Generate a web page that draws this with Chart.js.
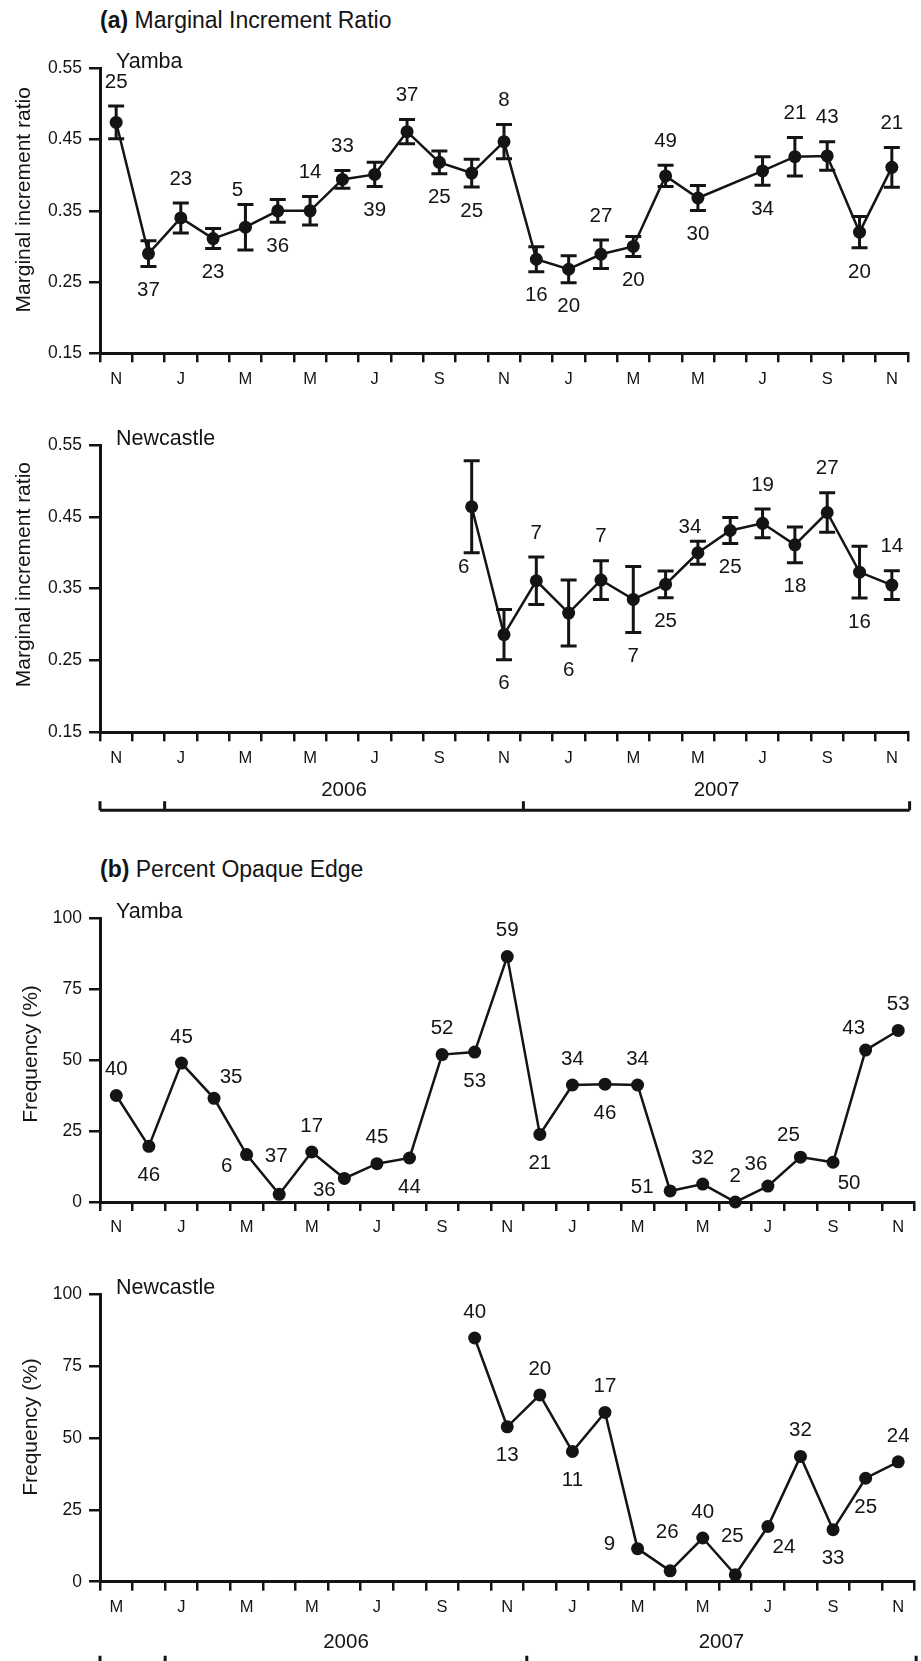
<!DOCTYPE html>
<html>
<head>
<meta charset="utf-8">
<script src="https://cdn.jsdelivr.net/npm/chart.js@4.4.1/dist/chart.umd.min.js"></script>
<style>
body { margin: 0; background: #fff; }
#page { position: relative; width: 921px; height: 1661px; font-family: 'Liberation Sans', Arial, Helvetica, sans-serif; color: #141414; overflow: hidden; }
#page canvas { position: absolute; left: 0; }
.ttl { position: absolute; left: 100px; font-size: 23px; line-height: 23px; white-space: nowrap; }
</style>
</head>
<body>
<div id="page">
  <div class="ttl" style="top:8.5px"><b>(a)</b> Marginal Increment Ratio</div>
  <canvas id="mirYamba" width="921" height="350" style="top:40px"></canvas>
  <canvas id="mirNewcastle" width="921" height="425" style="top:395px"></canvas>
  <div class="ttl" style="top:857.5px"><b>(b)</b> Percent Opaque Edge</div>
  <canvas id="opYamba" width="921" height="360" style="top:885px"></canvas>
  <canvas id="opNewcastle" width="921" height="411" style="top:1250px"></canvas>
</div>
<script>
// months Nov 2005 .. Nov 2007
const months = ['Nov 05','Dec 05','Jan 06','Feb 06','Mar 06','Apr 06','May 06','Jun 06','Jul 06','Aug 06','Sep 06','Oct 06',
                'Nov 06','Dec 06','Jan 07','Feb 07','Mar 07','Apr 07','May 07','Jun 07','Jul 07','Aug 07','Sep 07','Oct 07','Nov 07'];
const tickLabels = ['N','J','M','M','J','S','N','J','M','M','J','S','N'];
const tickLabelsNcOpaque = ['M','J','M','M','J','S','N','J','M','M','J','S','N'];
const years = ['2006', '2007'];

// (a) marginal increment ratio, mean and SE, with sample sizes
const mirYamba = [0.474, 0.290, 0.340, 0.311, 0.327, 0.350, 0.350, 0.394, 0.401, 0.461, 0.418, 0.403, 0.447,
                  0.282, 0.268, 0.289, 0.300, 0.399, 0.368, null, 0.406, 0.426, 0.427, 0.320, 0.411];
const mirYambaSE = [0.023, 0.018, 0.021, 0.014, 0.032, 0.016, 0.020, 0.0125, 0.017, 0.017, 0.016, 0.0195, 0.024,
                    0.0175, 0.019, 0.020, 0.014, 0.015, 0.0175, null, 0.020, 0.027, 0.020, 0.022, 0.028];
const mirYambaN = [25, 37, 23, 23, 5, 36, 14, 33, 39, 37, 25, 25, 8, 16, 20, 27, 20, 49, 30, null, 34, 21, 43, 20, 21];

const mirNewcastle = [null, null, null, null, null, null, null, null, null, null, null,
                      0.464, 0.286, 0.361, 0.316, 0.362, 0.335, 0.356, 0.400, 0.431, 0.441, 0.411, 0.456, 0.373, 0.355];
const mirNewcastleSE = [null, null, null, null, null, null, null, null, null, null, null,
                        0.064, 0.035, 0.033, 0.046, 0.027, 0.046, 0.0185, 0.016, 0.018, 0.020, 0.025, 0.0275, 0.036, 0.020];
const mirNewcastleN = [null, null, null, null, null, null, null, null, null, null, null,
                       6, 6, 7, 6, 7, 7, 25, 34, 25, 19, 18, 27, 16, 14];

// (b) percent opaque edge, with sample sizes
const opYamba = [37.5, 19.6, 48.9, 36.5, 16.7, 2.7, 17.6, 8.3, 13.5, 15.5, 51.9, 52.8, 86.4,
                 23.8, 41.2, 41.5, 41.2, 3.9, 6.3, 0, 5.6, 15.8, 14, 53.5, 60.4];
const opYambaN = [40, 46, 45, 35, 6, 37, 17, 36, 45, 44, 52, 53, 59, 21, 34, 46, 34, 51, 32, 2, 36, 25, 50, 43, 53];

const opNewcastle = [null, null, null, null, null, null, null, null, null, null, null,
                     84.8, 53.9, 65, 45.3, 58.9, 11.5, 3.8, 15.2, 2.4, 19.2, 43.6, 18.1, 36, 41.7];
const opNewcastleN = [null, null, null, null, null, null, null, null, null, null, null,
                      40, 13, 20, 11, 17, 9, 26, 40, 25, 24, 32, 33, 25, 24];

// where each count label sits relative to its point
const placeMirYamba = ['a','b','a','b','al','b','a','a','b','a','b','b','a','b','b','a','b','a','b',null,'b','a','a','b','a'];
const placeMirNewcastle = [null,null,null,null,null,null,null,null,null,null,null,
                           'bl','b','a','b','a','b','b','al','b','a','b','a','b','a'];
const placeOpYamba = ['a','b','a','ar','bl','aa','a','bl','a','b','a','b','a','b','a','b','a','l','a','a','al','al','br','al','a'];
const placeOpNewcastle = [null,null,null,null,null,null,null,null,null,null,null,
                          'a','b','a','b','a','l','aa','a','aa','br','a','b','b','a'];

const yearBreaks = [-0.5, 1.5, 12.6, 24.55];

const ink = '#141414';
const family = "'Liberation Sans', Arial, Helvetica, sans-serif";
Chart.defaults.font.family = family;
Chart.defaults.color = ink;

const plainOffsets = { a: [0, -26], b: [0, 29], aa: [-3, -38], ar: [17, -21], al: [-12, -22], bl: [-20, 12], br: [16, 21], l: [-28, -4] };

function labelOffset(code, errPx) {
    if (errPx == null) return plainOffsets[code];
    if (code === 'a') return [0, -(errPx + 24)];
    if (code === 'b') return [0, errPx + 24];
    if (code === 'al') return [-8, -(errPx + 14)];
    if (code === 'bl') return [-8, errPx + 15];
    return [0, 0];
}

function deco(cfg) {
    return {
        id: 'deco',
        beforeDatasetsDraw(chart) {
            if (!cfg.errors) return;
            const {ctx} = chart;
            const xs = chart.scales.x, ys = chart.scales.y;
            ctx.save();
            ctx.strokeStyle = ink;
            ctx.lineWidth = 3;
            cfg.values.forEach((v, i) => {
                if (v == null) return;
                const e = cfg.errors[i];
                const px = xs.getPixelForValue(i);
                const top = ys.getPixelForValue(v + e), bot = ys.getPixelForValue(v - e);
                ctx.beginPath();
                ctx.moveTo(px, top); ctx.lineTo(px, bot);
                ctx.moveTo(px - 8, top); ctx.lineTo(px + 8, top);
                ctx.moveTo(px - 8, bot); ctx.lineTo(px + 8, bot);
                ctx.stroke();
            });
            ctx.restore();
        },
        afterDraw(chart) {
            const {ctx, chartArea} = chart;
            const xs = chart.scales.x, ys = chart.scales.y;
            ctx.save();
            ctx.fillStyle = ink;

            // sample sizes
            ctx.font = '20.5px ' + family;
            ctx.textAlign = 'center';
            ctx.textBaseline = 'middle';
            cfg.values.forEach((v, i) => {
                if (v == null || cfg.counts[i] == null) return;
                const px = xs.getPixelForValue(i), py = ys.getPixelForValue(v);
                const errPx = cfg.errors ? ys.getPixelForValue(v - cfg.errors[i]) - py : null;
                const [dx, dy] = labelOffset(cfg.places[i], errPx);
                ctx.fillText(String(cfg.counts[i]), px + dx, py + dy);
            });

            // site name
            ctx.textAlign = 'left';
            ctx.textBaseline = 'alphabetic';
            ctx.font = '21.5px ' + family;
            ctx.fillText(cfg.site, 116, chartArea.top);

            // y axis title
            ctx.font = '21px ' + family;
            ctx.save();
            ctx.translate(cfg.titleX, (chartArea.top + chartArea.bottom) / 2 + cfg.titleShift);
            ctx.rotate(-Math.PI / 2);
            ctx.textAlign = 'center';
            ctx.fillText(cfg.yTitle, 0, 0);
            ctx.restore();

            // year bracket
            if (cfg.bracket) {
                const lineY = chartArea.bottom + cfg.bracket.line;
                const xsPix = yearBreaks.map(b => xs.getPixelForValue(b));
                ctx.font = '20.5px ' + family;
                ctx.textAlign = 'center';
                ctx.textBaseline = 'middle';
                years.forEach((yr, k) => {
                    ctx.fillText(yr, (xsPix[k + 1] + xsPix[k + 2]) / 2, chartArea.bottom + cfg.bracket.year);
                });
                ctx.strokeStyle = ink;
                ctx.lineWidth = 3;
                ctx.beginPath();
                ctx.moveTo(xsPix[0], lineY);
                ctx.lineTo(xsPix[xsPix.length - 1], lineY);
                xsPix.forEach(p => { ctx.moveTo(p, lineY); ctx.lineTo(p, lineY - 9); });
                ctx.stroke();
            }
            ctx.restore();
        }
    };
}

function makeChart(id, cfg) {
    return new Chart(document.getElementById(id), {
        type: 'line',
        data: {
            labels: months,
            datasets: [{
                data: cfg.values,
                borderColor: ink,
                borderWidth: 2.5,
                pointRadius: 6.5,
                pointHoverRadius: 6.5,
                pointBackgroundColor: ink,
                pointBorderWidth: 0,
                spanGaps: true,
                tension: 0,
                clip: false
            }]
        },
        options: {
            responsive: false,
            animation: false,
            devicePixelRatio: 1,
            layout: { padding: { top: cfg.padTop, right: cfg.padRight, left: 0, bottom: 0 } },
            plugins: { legend: { display: false }, tooltip: { enabled: false } },
            scales: {
                x: {
                    type: 'category',
                    offset: true,
                    grid: { offset: true, drawOnChartArea: false, drawTicks: true, tickLength: 9, color: ink, lineWidth: 2.5 },
                    border: { display: true, color: ink, width: 3 },
                    ticks: {
                        autoSkip: false, maxRotation: 0, minRotation: 0, padding: 7,
                        font: { size: 16.5 }, color: ink,
                        callback: (v, i) => (i % 2 ? '' : cfg.ticks[i / 2])
                    },
                    afterFit: s => { s.height = cfg.xHeight; }
                },
                y: {
                    min: cfg.min,
                    max: cfg.max,
                    ticks: { stepSize: cfg.step, padding: 7, font: { size: 17.5 }, color: ink, callback: v => cfg.fmt(v) },
                    grid: { drawOnChartArea: false, drawTicks: true, tickLength: 11, color: ink, lineWidth: 2.5 },
                    border: { display: true, color: ink, width: 3 },
                    afterFit: s => { s.width = 100; }
                }
            }
        },
        plugins: [deco(cfg)]
    });
}

const mirFmt = v => v.toFixed(2);
const pctFmt = v => String(Math.round(v));

makeChart('mirYamba', {
    values: mirYamba, errors: mirYambaSE, counts: mirYambaN, places: placeMirYamba,
    site: 'Yamba', yTitle: 'Marginal increment ratio', titleX: 30, titleShift: -11,
    ticks: tickLabels, min: 0.15, max: 0.55, step: 0.1, fmt: mirFmt,
    padTop: 28.3, padRight: 13, xHeight: 36.7
});

makeChart('mirNewcastle', {
    values: mirNewcastle, errors: mirNewcastleSE, counts: mirNewcastleN, places: placeMirNewcastle,
    site: 'Newcastle', yTitle: 'Marginal increment ratio', titleX: 30, titleShift: -14,
    ticks: tickLabels, min: 0.15, max: 0.55, step: 0.1, fmt: mirFmt,
    padTop: 50, padRight: 13, xHeight: 87.7,
    bracket: { year: 58, line: 78 }
});

makeChart('opYamba', {
    values: opYamba, errors: null, counts: opYambaN, places: placeOpYamba,
    site: 'Yamba', yTitle: 'Frequency (%)', titleX: 36.5, titleShift: -6,
    ticks: tickLabels, min: 0, max: 100, step: 25, fmt: pctFmt,
    padTop: 33, padRight: 5, xHeight: 43
});

makeChart('opNewcastle', {
    values: opNewcastle, errors: null, counts: opNewcastleN, places: placeOpNewcastle,
    site: 'Newcastle', yTitle: 'Frequency (%)', titleX: 36.5, titleShift: -11,
    ticks: tickLabelsNcOpaque, min: 0, max: 100, step: 25, fmt: pctFmt,
    padTop: 44.3, padRight: 5, xHeight: 79.3,
    bracket: { year: 61, line: 83 }
});
</script>
</body>
</html>
